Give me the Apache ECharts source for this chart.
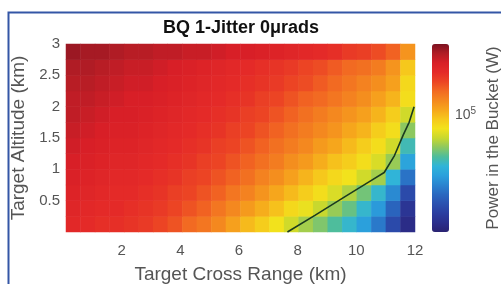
<!DOCTYPE html>
<html>
<head>
<meta charset="utf-8">
<script src="https://cdn.jsdelivr.net/npm/echarts@6/dist/echarts.min.js"></script>
<style>
html, body { margin: 0; padding: 0; background: #fff; }
#main { width: 501px; height: 284px; }
</style>
</head>
<body>
<div id="main"></div>
<script>
// cell centres (km)
var rangeKm = [0.25, 0.75, 1.25, 1.75, 2.25, 2.75, 3.25, 3.75, 4.25, 4.75, 5.25, 5.75,
               6.25, 6.75, 7.25, 7.75, 8.25, 8.75, 9.25, 9.75, 10.25, 10.75, 11.25, 11.75];
var altKm = [0.125, 0.375, 0.625, 0.875, 1.125, 1.375, 1.625, 1.875, 2.125, 2.375, 2.625, 2.875];

// log10 of power in the bucket (W), one row per altitude, bottom row first
var powerLog = [
  [5.24, 5.23, 5.22, 5.22, 5.21, 5.20, 5.18, 5.16, 5.13, 5.11, 5.08, 5.04, 5.00, 4.97, 4.93, 4.89, 4.85, 4.82, 4.78, 4.74, 4.68, 4.61, 4.51, 4.42],
  [5.25, 5.24, 5.23, 5.23, 5.22, 5.21, 5.20, 5.18, 5.16, 5.14, 5.11, 5.08, 5.05, 5.02, 4.99, 4.95, 4.92, 4.88, 4.84, 4.80, 4.74, 4.67, 4.57, 4.45],
  [5.26, 5.25, 5.24, 5.23, 5.23, 5.22, 5.21, 5.19, 5.18, 5.16, 5.14, 5.11, 5.09, 5.06, 5.03, 5.00, 4.97, 4.94, 4.90, 4.86, 4.81, 4.74, 4.64, 4.51],
  [5.27, 5.26, 5.25, 5.24, 5.24, 5.23, 5.22, 5.21, 5.19, 5.18, 5.16, 5.14, 5.12, 5.09, 5.07, 5.04, 5.01, 4.98, 4.95, 4.93, 4.89, 4.85, 4.73, 4.60],
  [5.28, 5.27, 5.26, 5.25, 5.25, 5.24, 5.23, 5.22, 5.21, 5.19, 5.18, 5.16, 5.14, 5.12, 5.10, 5.07, 5.05, 5.02, 4.99, 4.97, 4.94, 4.90, 4.84, 4.69],
  [5.29, 5.28, 5.27, 5.26, 5.26, 5.25, 5.24, 5.23, 5.22, 5.21, 5.19, 5.18, 5.16, 5.14, 5.12, 5.10, 5.08, 5.05, 5.03, 5.00, 4.97, 4.94, 4.89, 4.76],
  [5.30, 5.29, 5.28, 5.27, 5.27, 5.26, 5.25, 5.24, 5.23, 5.22, 5.21, 5.19, 5.18, 5.16, 5.14, 5.12, 5.10, 5.08, 5.06, 5.03, 5.01, 4.97, 4.94, 4.83],
  [5.31, 5.30, 5.29, 5.28, 5.28, 5.27, 5.26, 5.25, 5.24, 5.23, 5.22, 5.21, 5.19, 5.18, 5.16, 5.14, 5.12, 5.10, 5.08, 5.06, 5.04, 5.01, 4.97, 4.89],
  [5.31, 5.31, 5.30, 5.29, 5.28, 5.28, 5.27, 5.26, 5.25, 5.24, 5.23, 5.22, 5.21, 5.19, 5.18, 5.16, 5.14, 5.13, 5.11, 5.09, 5.07, 5.04, 5.01, 4.94],
  [5.32, 5.32, 5.31, 5.30, 5.29, 5.29, 5.28, 5.27, 5.26, 5.25, 5.24, 5.23, 5.22, 5.21, 5.20, 5.18, 5.17, 5.15, 5.13, 5.11, 5.09, 5.07, 5.04, 4.95],
  [5.33, 5.33, 5.32, 5.31, 5.30, 5.30, 5.29, 5.28, 5.27, 5.26, 5.25, 5.24, 5.23, 5.22, 5.21, 5.20, 5.18, 5.17, 5.15, 5.13, 5.12, 5.10, 5.06, 4.98],
  [5.35, 5.34, 5.34, 5.33, 5.32, 5.32, 5.31, 5.31, 5.30, 5.30, 5.29, 5.28, 5.28, 5.27, 5.26, 5.25, 5.24, 5.23, 5.22, 5.20, 5.19, 5.17, 5.14, 5.06]
];

// black contour line (range km, altitude km)
var contourRange = [7.65, 8.6, 9.6, 10.5, 10.95, 11.3, 11.6, 11.8, 11.97];
var contourAlt   = [0, 0.27, 0.56, 0.82, 0.95, 1.22, 1.55, 1.75, 2.0];

var xTicks = [2, 4, 6, 8, 10, 12];
var yTicks = [0.5, 1, 1.5, 2, 2.5, 3];
var cbarTicks = [5];

var cbarMin = 4.38, cbarMax = 5.38;
var colours = ['#2a2272', '#2b2f8c', '#2b3ea0', '#2b52b0', '#2a68c0', '#2a84d0', '#2ba0dc',
               '#30b4d8', '#4ebd9c', '#8cc860', '#c8d82e', '#f2e21c', '#f6c81c', '#f6a61c',
               '#f4881f', '#f26a22', '#ec4424', '#e42a28', '#d81f27', '#b01c25', '#7c1220'];

var cells = [];
for (var j = 0; j < altKm.length; j++) {
  for (var i = 0; i < rangeKm.length; i++) {
    cells.push([i, j, powerLog[j][i]]);
  }
}
var contour = contourRange.map(function (x, k) { return [x, contourAlt[k]]; });

var font = 'Liberation Sans, Arial, sans-serif';
var grey = '#555';

var myChart = echarts.init(document.getElementById('main'));
var option = {
  backgroundColor: '#fff',
  animation: false,
  title: {
    text: 'BQ 1-Jitter 0\u03bcrads',
    left: 241,
    top: 19,
    padding: 0,
    textAlign: 'center',
    textStyle: { fontFamily: font, fontSize: 18, fontWeight: 'bold', color: '#111' }
  },
  grid: [
    { left: 66, right: 86, top: 44, bottom: 52, outerBoundsMode: 'none' },
    { left: 432, width: 17, top: 44, height: 188, outerBoundsMode: 'none' }
  ],
  xAxis: [
    { type: 'category', gridIndex: 0, data: rangeKm, show: false },
    {
      type: 'value', gridIndex: 0, min: 0.1, max: 12, position: 'bottom',
      axisLine: { show: false }, axisTick: { show: false }, splitLine: { show: false },
      axisLabel: { customValues: xTicks, color: grey, fontFamily: font, fontSize: 15, margin: 11 },
      name: 'Target Cross Range (km)', nameLocation: 'middle', nameGap: 33,
      nameTextStyle: { color: grey, fontFamily: font, fontSize: 19 }
    },
    { type: 'value', gridIndex: 1, show: false }
  ],
  yAxis: [
    { type: 'category', gridIndex: 0, data: altKm, show: false },
    {
      type: 'value', gridIndex: 0, min: 0, max: 3, position: 'left',
      axisLine: { show: false }, axisTick: { show: false }, splitLine: { show: false },
      axisLabel: { customValues: yTicks, color: grey, fontFamily: font, fontSize: 15, margin: 6 },
      name: 'Target Altitude (km)', nameLocation: 'middle', nameGap: 28,
      nameTextStyle: { color: grey, fontFamily: font, fontSize: 19 }
    },
    {
      type: 'value', gridIndex: 1, min: cbarMin, max: cbarMax, position: 'right',
      axisLine: { show: false }, axisTick: { show: false }, splitLine: { show: false },
      axisLabel: {
        customValues: cbarTicks, margin: 6,
        formatter: function (v) { return '{b|10}{s|' + Math.round(v) + '}'; },
        rich: {
          b: { color: grey, fontFamily: font, fontSize: 14 },
          s: { color: grey, fontFamily: font, fontSize: 10, verticalAlign: 'top', padding: [0, 0, 8, 0] }
        }
      },
      name: 'Power in the Bucket (W)', nameLocation: 'middle', nameGap: 36,
      nameTextStyle: { color: grey, fontFamily: font, fontSize: 17 }
    }
  ],
  visualMap: {
    type: 'continuous',
    seriesIndex: 0,
    min: cbarMin,
    max: cbarMax,
    calculable: false,
    left: 432,
    top: 44,
    padding: 0,
    itemWidth: 17,
    itemHeight: 188,
    text: null,
    showLabel: false,
    inRange: { color: colours }
  },
  graphic: [{
    type: 'polyline',
    shape: { points: [[8.5, 284], [8.5, 12.5], [501, 12.5]] },
    style: { stroke: '#3456a6', lineWidth: 2, fill: null },
    silent: true
  }],
  series: [
    {
      type: 'heatmap',
      xAxisIndex: 0,
      yAxisIndex: 0,
      data: cells,
      itemStyle: { borderWidth: 0 }
    },
    {
      type: 'line',
      xAxisIndex: 1,
      yAxisIndex: 1,
      data: contour,
      symbol: 'none',
      clip: false,
      lineStyle: { color: '#1b3a1f', width: 1.6 },
      z: 5
    }
  ]
};
myChart.setOption(option);
</script>
</body>
</html>
